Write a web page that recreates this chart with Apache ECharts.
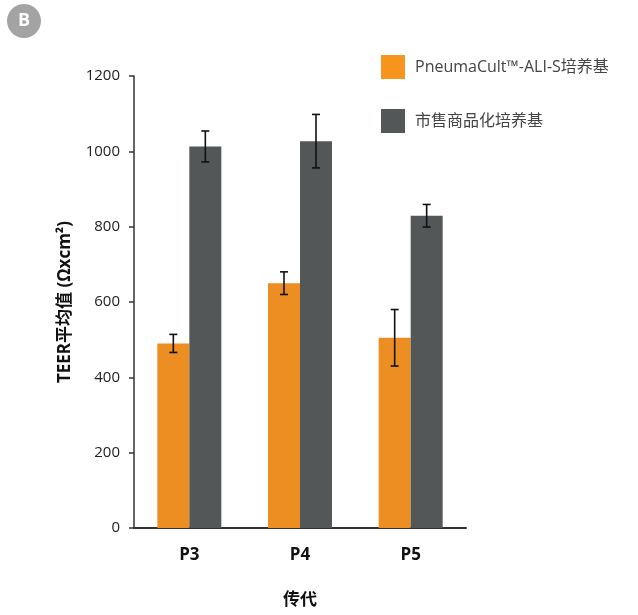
<!DOCTYPE html>
<html>
<head>
<meta charset="utf-8">
<style>
  html, body { margin: 0; padding: 0; background: #fff; }
  #echarts { width: 638px; height: 615px; }
</style>
<script src="https://cdn.jsdelivr.net/npm/echarts@6/dist/echarts.min.js"></script>
</head>
<body>
<div id="echarts"></div>
<script>
// 数据
var categories = ["P3", "P4", "P5"];
var seriesNames = ["PneumaCult™-ALI-S培养基", "市售商品化培养基"];
var aliValues = [490, 650, 505];
var aliErrors = [24, 30, 75];
var commValues = [1013, 1027, 829];
var commErrors = [41, 71, 30];
var yTicks = [0, 200, 400, 600, 800, 1000, 1200];

var FONT = "'Open Sans', 'Noto Sans CJK SC', sans-serif";
var ORANGE = "#EC8E21";
var GRAY = "#545758";
var BAR_W = 32;

var chartDom = document.getElementById("echarts");
var myChart = echarts.init(chartDom);
var option;

// 误差线数据 [类别索引, 下限, 上限]
function errData(vals, errs) {
  return vals.map(function (v, i) {
    return [i, v - errs[i], v + errs[i]];
  });
}

function errRender(offset) {
  return function (params, api) {
    var lo = api.coord([api.value(0), api.value(1)]);
    var hi = api.coord([api.value(0), api.value(2)]);
    var x = lo[0] + offset;
    var cap = 4;
    var style = { stroke: "#111", lineWidth: 1.6 };
    return {
      type: "group",
      children: [
        { type: "line", shape: { x1: x, y1: lo[1], x2: x, y2: hi[1] }, style: style },
        { type: "line", shape: { x1: x - cap, y1: lo[1], x2: x + cap, y2: lo[1] }, style: style },
        { type: "line", shape: { x1: x - cap, y1: hi[1], x2: x + cap, y2: hi[1] }, style: style },
      ],
    };
  };
}

option = {
  animation: false,
  textStyle: { fontFamily: FONT },
  grid: {
    left: 134,
    right: 172,
    top: 76,
    bottom: 87,
  },
  graphic: [
    {
      type: "circle",
      shape: { cx: 24, cy: 21, r: 17 },
      style: { fill: "#a3a3a3" },
    },
    {
      type: "text",
      x: 24,
      y: 21,
      style: {
        text: "B",
        fill: "#fff",
        font: "bold 18px " + FONT,
        align: "center",
        verticalAlign: "middle",
      },
    },
  ],
  legend: {
    orient: "vertical",
    left: 376,
    top: 50,
    itemWidth: 24,
    itemHeight: 24,
    itemGap: 30,
    icon: "rect",
    textStyle: { fontSize: 16, color: "#444", fontFamily: FONT, padding: [0, 0, 0, 5] },
    data: [
      { name: seriesNames[0], itemStyle: { color: "#F7941D" } },
      { name: seriesNames[1] },
    ],
  },
  xAxis: {
    type: "category",
    data: categories,
    name: "传代",
    nameLocation: "middle",
    nameGap: 64,
    nameTextStyle: { fontSize: 17, fontWeight: "bold", color: "#111", fontFamily: FONT },
    axisLine: { lineStyle: { color: "#333", width: 2 } },
    axisTick: { show: false },
    axisLabel: { fontSize: 17, fontWeight: "bold", color: "#111", margin: 19, fontFamily: FONT },
  },
  yAxis: {
    type: "value",
    min: yTicks[0],
    max: yTicks[yTicks.length - 1],
    interval: 200,
    name: "TEER平均值 (Ωxcm²)",
    nameLocation: "middle",
    nameGap: 60,
    nameTextStyle: { fontSize: 17, fontWeight: "bold", color: "#111", fontFamily: FONT },
    axisLine: { show: true, lineStyle: { color: "#333", width: 1.5 } },
    axisTick: { show: true, length: 5, lineStyle: { color: "#333", width: 1.5 } },
    axisLabel: {
      fontSize: 15,
      color: "#222",
      margin: 14,
      fontFamily: FONT,
      formatter: function (v) { return String(v); },
    },
    splitLine: { show: false },
  },
  series: [
    {
      name: seriesNames[0],
      type: "bar",
      barWidth: BAR_W,
      barGap: "0%",
      itemStyle: { color: ORANGE },
      data: aliValues,
    },
    {
      name: seriesNames[1],
      type: "bar",
      barWidth: BAR_W,
      barGap: "0%",
      itemStyle: { color: GRAY },
      data: commValues,
    },
    {
      type: "custom",
      renderItem: errRender(-BAR_W / 2),
      encode: { x: 0, y: [1, 2] },
      data: errData(aliValues, aliErrors),
      z: 10,
    },
    {
      type: "custom",
      renderItem: errRender(BAR_W / 2),
      encode: { x: 0, y: [1, 2] },
      data: errData(commValues, commErrors),
      z: 10,
    },
  ],
};

option && myChart.setOption(option);
</script>
</body>
</html>
